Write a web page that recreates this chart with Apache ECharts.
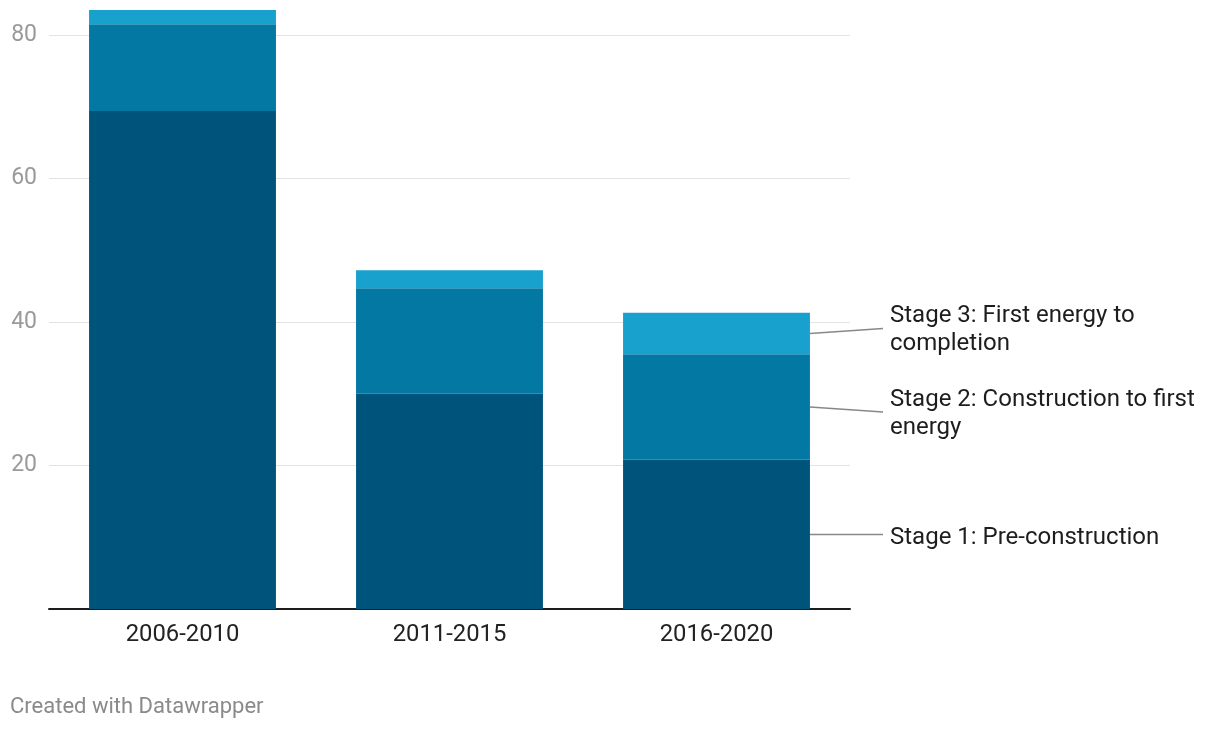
<!DOCTYPE html>
<html>
<head>
<meta charset="utf-8">
<script src="https://cdn.jsdelivr.net/npm/echarts@6/dist/echarts.min.js"></script>
<style>
html,body{margin:0;padding:0;background:#fff;}
#c{width:1220px;height:730px;}
</style>
</head>
<body>
<div id="c"></div>
<script>
const categories = ['2006-2010', '2011-2015', '2016-2020'];
const stage1 = [69.4, 30.0, 20.8];
const stage2 = [12.1, 14.7, 14.7];
const stage3 = [2.0, 2.5, 5.8];
const seriesNames = ['Stage 1: Pre-construction', 'Stage 2: Construction to first\nenergy', 'Stage 3: First energy to\ncompletion'];
const colors = ['#00537a', '#0278a3', '#19a1cd'];
const yTicks = [0, 20, 40, 60, 80];

const FONT = 'Roboto, "Noto Sans", sans-serif';
const chart = echarts.init(document.getElementById('c'), null, {renderer: 'canvas'});

const dataSets = [stage1, stage2, stage3];
const GRID_LEFT = 49, GRID_RIGHT = 370;
const option = {
  animation: false,
  backgroundColor: '#fff',
  textStyle: {fontFamily: FONT},
  grid: {left: GRID_LEFT, right: GRID_RIGHT, top: 35, bottom: 121, containLabel: false},
  xAxis: {
    type: 'category',
    data: categories,
    axisLine: {show: true, lineStyle: {color: '#1d1d1d', width: 2}},
    axisTick: {show: false},
    axisLabel: {color: '#222', fontSize: 23.8, fontFamily: FONT, margin: 14}
  },
  yAxis: {
    type: 'value',
    min: yTicks[0],
    max: yTicks[yTicks.length - 1],
    interval: 20,
    axisLine: {show: false},
    axisTick: {show: false},
    splitLine: {lineStyle: {color: '#e3e3e3', width: 1}},
    axisLabel: {
      color: '#9a9a9a', fontSize: 23, fontFamily: FONT, margin: 12,
      formatter: v => (v === 0 ? '' : String(v))
    }
  },
  graphic: [{
    type: 'text', left: 10, top: 696,
    style: {text: 'Created with Datawrapper', fill: '#8a8a8a', font: '22px ' + FONT}
  }],
  series: dataSets.map((d, i) => ({
    type: 'bar',
    name: seriesNames[i],
    stack: 'total',
    data: d,
    clip: false,
    barCategoryGap: '30%',
    itemStyle: {color: colors[i]},
    emphasis: {disabled: true}
  }))
};
chart.setOption(option);

// annotate the last bar's segments with leader lines and labels
const last = categories.length - 1;
const graphics = option.graphic.slice();
let cum = 0;
const labelOffsetY = [0, 5, -5];
const textShiftY = [4, 2, 2];
const catWidth = (1220 - GRID_LEFT - GRID_RIGHT) / categories.length;
const barRight = chart.convertToPixel({gridIndex: 0}, [last, 0])[0] + 0.35 * catWidth;
dataSets.forEach((d, i) => {
  const lo = cum, hi = cum + d[last];
  cum = hi;
  const mid = (lo + hi) / 2;
  const py = chart.convertToPixel({gridIndex: 0}, [last, mid])[1];
  const ly = py + labelOffsetY[i];
  graphics.push({
    type: 'line', silent: true,
    shape: {x1: barRight, y1: py, x2: 883, y2: ly},
    style: {stroke: '#888', lineWidth: 1.5}
  });
  graphics.push({
    type: 'text', silent: true,
    x: 890, y: ly + textShiftY[i],
    style: {
      text: seriesNames[i], fill: '#1d1d1d', font: '24px ' + FONT,
      lineHeight: 28, verticalAlign: 'middle', align: 'left'
    }
  });
});
chart.setOption({graphic: graphics});
</script>
</body>
</html>
